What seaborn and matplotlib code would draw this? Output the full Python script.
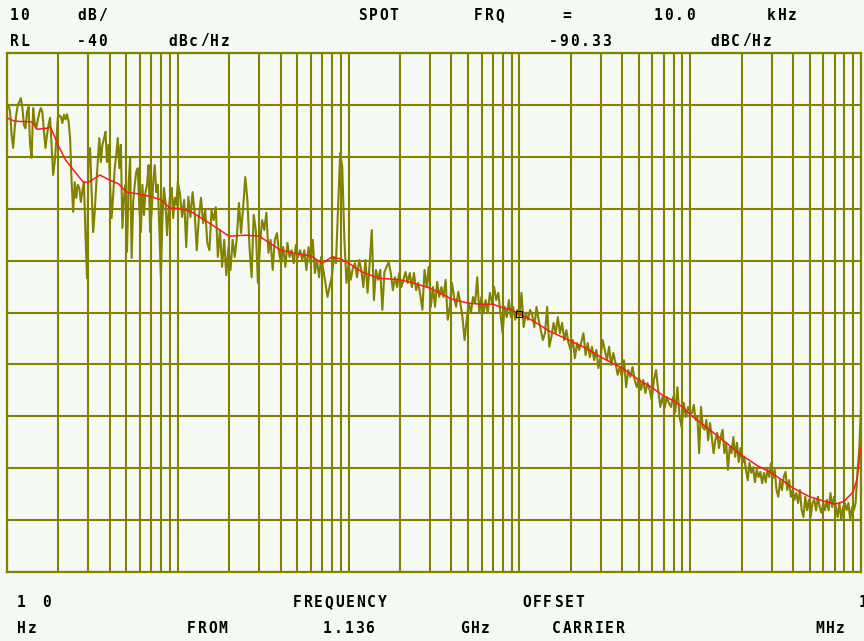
import numpy as np
import pandas as pd
import matplotlib
matplotlib.use("Agg")
import matplotlib.pyplot as plt
import seaborn as sns

# ---- measured single-sideband phase noise, dBc/Hz (one list per decade of offset) ----
decade_10_100 = [
    -50.4, -50.0, -51.4, -55.8, -58.3, -54.5, -51.9, -50.0, -49.4, -48.7,
    -50.6, -53.9, -54.5, -51.4, -50.4, -57.7, -60.2, -50.6, -53.5, -54.5,
    -52.9, -51.5, -50.6, -51.4, -55.0, -58.3, -55.8, -53.8, -52.5, -58.0,
    -63.5, -61.0, -57.1, -52.5, -52.0, -52.3, -53.5, -51.9, -52.8, -51.8,
    -53.2, -56.4, -64.9, -70.6, -64.9, -67.9, -65.4, -66.0, -68.7, -66.5,
    -64.9, -75.1, -83.4, -59.1, -58.3, -66.8, -74.5, -70.6, -65.4, -61.0,
    -56.4, -61.0, -57.7, -56.5, -55.2, -61.0, -57.7, -65.4, -71.8, -67.4,
    -62.2, -59.7, -56.4, -62.2, -57.7, -73.7, -67.9, -65.4, -78.3, -65.4,
    -60.2, -79.5, -68.7, -65.4, -62.9, -62.2, -69.9, -74.5, -65.4, -71.2,
    -66.8, -65.4, -61.6, -74.5, -70.6, -64.9, -61.6, -66.8, -65.4, -73.7,
    -83.4, -71.8, -66.0, -68.7, -75.1, -70.6, -67.4, -66.0, -71.8, -67.9,
    -69.3,
]
decade_100_1k = [
    -64.9, -67.0, -71.6, -68.3, -77.4, -67.7, -71.6, -66.8, -70.8, -78.0,
    -71.6, -67.9, -72.8, -70.3, -76.6, -78.0, -70.3, -72.2, -69.7, -79.3,
    -74.1, -81.2, -76.0, -82.8, -77.4, -81.8, -76.0, -79.3, -75.5, -68.9,
    -74.7, -69.7, -63.9, -68.3, -77.4, -83.2, -71.2, -74.1, -84.3, -76.6,
    -72.2, -74.1, -70.8, -78.5, -76.0, -81.8, -76.0, -74.7, -78.5, -80.5,
    -77.4, -81.2, -76.6, -79.3, -78.0, -80.5, -77.0, -79.3, -78.0, -79.9,
    -78.0, -81.8, -77.4, -80.5, -76.0, -82.4, -79.9, -83.2, -79.3, -81.8,
    -84.3, -87.0, -85.0, -83.2, -79.3, -80.5, -69.7, -59.3, -62.0, -76.0,
    -84.3,
]
decade_1k_10k = [
    -80.5, -83.7, -81.5, -80.5, -83.2, -79.9, -81.8, -85.1, -79.9, -86.2,
    -80.5, -74.1, -87.6, -81.8, -83.7, -81.8, -89.5, -82.2, -81.2, -80.3,
    -82.4, -85.7, -83.2, -85.1, -82.4, -85.1, -83.7, -82.2, -84.3, -82.4,
    -85.1, -82.4, -85.7, -84.3, -86.6, -89.5, -81.8, -85.1, -81.2, -88.9,
    -85.1, -88.9, -84.1, -87.0, -85.1, -87.0, -83.7, -91.4, -88.9, -84.3,
    -87.0, -88.9, -86.0, -88.2, -90.9, -95.3, -91.4, -88.2, -90.1, -87.0,
    -88.2, -83.2, -90.1, -87.0, -90.1, -87.6, -90.1, -86.2, -88.2, -85.1,
    -87.6, -86.2, -90.1, -94.0, -88.9, -90.9, -87.6, -90.9, -88.9, -91.4,
    -89.5,
]
decade_10k_100k = [
    -90.9, -86.2, -92.8, -90.1, -91.4, -89.5, -90.5, -92.8, -88.9, -91.4,
    -93.4, -95.3, -94.0, -88.9, -96.6, -94.7, -92.0, -94.0, -90.9, -94.0,
    -92.0, -95.3, -93.4, -95.9, -97.2, -95.3, -98.8, -95.9, -97.2, -95.7,
    -94.0, -98.2, -95.9, -98.6, -96.6, -99.2, -97.2, -100.7, -98.6, -95.3,
    -97.2, -99.2, -96.6, -100.1, -97.8, -99.7, -102.0, -100.5, -102.4, -99.2,
    -104.4, -101.1, -102.4, -100.5, -103.0, -104.4, -102.4, -104.9, -103.0, -105.5,
    -103.6, -104.9, -106.9, -103.0, -101.1, -104.9, -108.2, -106.3, -108.4, -106.3,
    -107.4, -108.2, -106.3, -109.2, -104.4, -110.1, -112.1, -107.4, -110.1, -108.2,
]
decade_100k_1M = [
    -109.4, -109.4, -107.8, -110.7, -110.1, -117.1, -108.2, -112.1, -112.6, -110.7,
    -114.6, -111.3, -114.0, -117.1, -114.6, -113.2, -116.1, -114.0, -112.6, -117.1,
    -115.1, -120.3, -115.9, -117.1, -114.0, -117.8, -115.1, -118.8, -116.1, -119.0,
    -117.8, -120.3, -122.3, -119.0, -120.9, -119.8, -122.7, -120.3, -121.7, -120.7,
    -122.9, -120.9, -122.7, -120.3, -121.7, -119.0, -121.9, -120.3, -124.2, -125.5,
    -122.3, -124.2, -121.7, -120.7, -124.2, -122.3, -125.5, -124.2, -126.1, -124.8,
    -126.7, -124.2, -128.1, -129.4, -125.5, -128.1, -126.1, -129.4, -126.7, -126.1,
    -128.1, -125.5, -127.5, -128.6, -126.7, -128.1, -126.1, -128.1, -124.8, -127.5,
    -125.5, -127.5, -129.4, -126.7, -130.0, -127.5, -126.7, -128.1, -126.7, -130.0,
    -127.5, -128.1, -126.7, -120.9, -116.5, -108.2,
]
decades = [decade_10_100, decade_100_1k, decade_1k_10k, decade_10k_100k, decade_100k_1M]
decade_starts = [10, 100, 1e3, 1e4, 1e5]

# ---- smoothed trace ----
smooth_freq = [
    10, 11, 12, 13, 14, 15, 17, 18, 20, 22, 25, 28, 30, 35, 40, 45, 50, 60, 70, 80, 90,
    100, 120, 150, 200, 250, 300, 400, 500, 600, 700, 800, 900,
    1e3, 1.2e3, 1.5e3, 2e3, 2.5e3, 3e3, 4e3, 5e3, 6e3, 7e3, 8e3, 9e3,
    1e4, 1.2e4, 1.5e4, 2e4, 2.5e4, 3e4, 4e4, 5e4, 6e4, 7e4, 8e4, 9e4,
    1e5, 1.2e5, 1.5e5, 2e5, 2.5e5, 3e5, 4e5, 5e5, 6e5, 7e5, 7.5e5, 8e5, 8.5e5,
    9e5, 9.5e5, 9.8e5, 1e6,
]
smooth_level = [
    -52.5, -53.1, -53.2, -53.2, -53.3, -54.7, -54.5, -54.3, -57.9, -60.6, -62.9,
    -64.9, -64.9, -63.5, -64.5, -65.2, -66.8, -67.2, -67.7, -68.3, -69.9,
    -69.9, -70.6, -72.6, -75.3, -75.1, -75.3, -78.0, -78.7, -79.1, -80.5, -79.3, -79.7,
    -80.5, -82.2, -83.4, -83.7, -84.5, -85.3, -87.4, -88.2, -88.4, -88.4, -89.1, -89.5,
    -90.3, -91.6, -93.6, -95.5, -97.0, -98.6, -100.7, -103.0, -104.5, -106.1, -107.0, -108.2,
    -109.7, -111.7, -114.2, -117.5, -119.6, -120.9, -123.8, -125.5, -126.3, -126.9, -126.7,
    -126.3, -125.4, -124.6, -121.9, -118.0, -115.9,
]

# ---- spot readout ----
spot_freq = 1e4
spot_level = -90.33

BG = "#F4F9F4"
OLIVE = "#828200"
RED = "#FF1A1A"

freq_parts = []
for i, (start, vals) in enumerate(zip(decade_starts, decades)):
    last = i == len(decades) - 1
    freq_parts.append(np.geomspace(start, start * 10, len(vals), endpoint=last))
raw = pd.DataFrame({"freq": np.concatenate(freq_parts),
                    "level": np.concatenate([np.array(v) for v in decades])})
smooth = pd.DataFrame({"freq": smooth_freq, "level": smooth_level})

sns.set_theme(style="white", rc={"axes.facecolor": BG, "figure.facecolor": BG})
plt.rcParams["font.family"] = ["DejaVu Sans Mono", "DejaVu Sans"]

W, H = 864, 641
fig = plt.figure(figsize=(W / 100, H / 100), dpi=100, facecolor=BG)
ax = fig.add_axes([7 / W, (H - 572) / H, 854 / W, 519 / H])
ax.set_facecolor(BG)

sns.lineplot(data=raw, x="freq", y="level", color=OLIVE, lw=1.5,
             estimator=None, sort=False, ax=ax, zorder=3)
sns.lineplot(data=smooth, x="freq", y="level", color=RED, lw=1.1,
             estimator=None, sort=False, ax=ax, zorder=4)
ax.plot([spot_freq], [spot_level], marker="s", ms=4, mfc="none", mec="black",
        mew=0.8, ls="none", zorder=5)

ax.set_xscale("log")
ax.set_xlim(10, 1e6)
ax.set_ylim(-140, -40)
ax.set_yticks(np.arange(-140, -39, 10))
ax.xaxis.set_major_locator(matplotlib.ticker.LogLocator(base=10))
ax.xaxis.set_minor_locator(matplotlib.ticker.LogLocator(base=10, subs=np.arange(2, 10)))
ax.grid(True, which="both", axis="x", color=OLIVE, lw=1.5)
ax.grid(True, which="major", axis="y", color=OLIVE, lw=1.5)
ax.set_axisbelow(True)
ax.tick_params(which="both", length=0, labelbottom=False, labelleft=False)
ax.set_xlabel("")
ax.set_ylabel("")
for sp in ax.spines.values():
    sp.set_visible(True)
    sp.set_color(OLIVE)
    sp.set_linewidth(1.6)

PITCH = 10.6


def put(s, x, y):
    """Draw a string on the fixed character grid of the analyzer screen."""
    for i, ch in enumerate(s):
        if ch != " ":
            fig.text((x + i * PITCH) / W, 1 - y / H, ch, ha="left", va="baseline",
                     fontsize=10.5, fontweight="bold", color="black",
                     family="DejaVu Sans Mono")


# header
put("10", 10, 20)
put("dB/", 77, 20)
put("SPOT", 358, 20)
put("FRQ", 474, 20)
put("=", 562, 20)
put("10.0", 654, 20)
put("kHz", 767, 20)
put("RL", 10, 45.5)
put("-40", 77, 45.5)
put("dBc/Hz", 168, 45.5)
put("-90.33", 549, 45.5)
put("dBC/Hz", 710, 45.5)
# footer
put("1", 17, 607)
put("0", 42, 607)
put("FREQUENCY", 293, 607)
put("OFFSET", 522, 607)
put("1", 859, 607)
put("Hz", 17, 633)
put("FROM", 187, 633)
put("1.136", 323, 633)
put("GHz", 460, 633)
put("CARRIER", 552, 633)
put("MHz", 815, 633)

fig.savefig("out.png", dpi=100, facecolor=BG)
